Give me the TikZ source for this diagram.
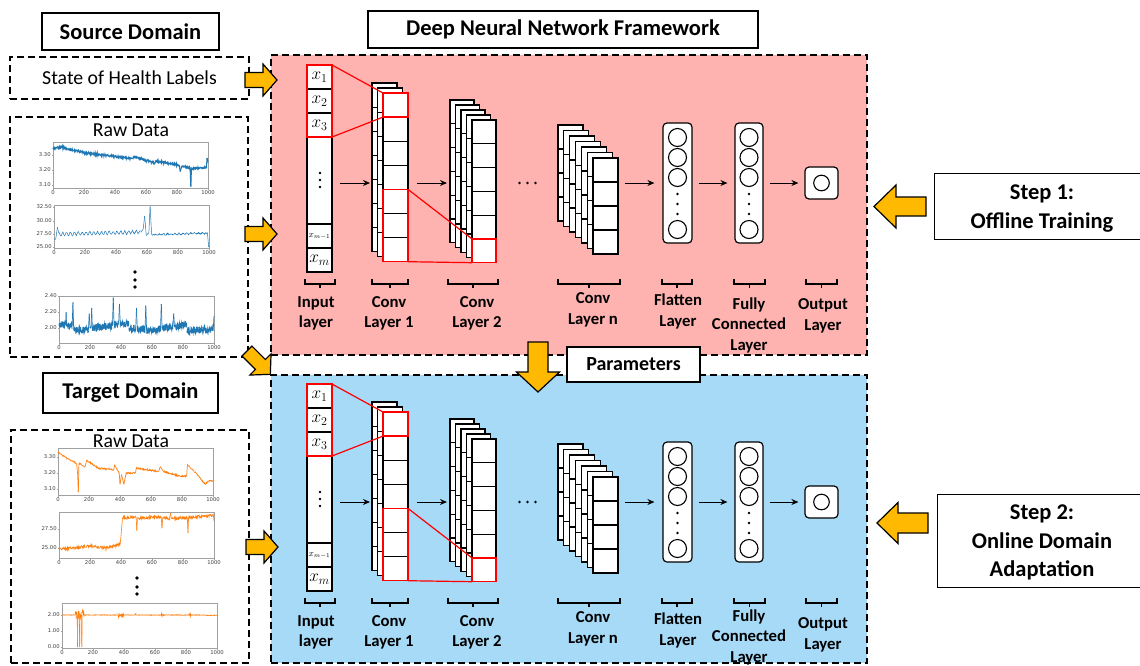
\documentclass[tikz,border=0pt]{standalone}
\usepackage{fontspec}
\setmainfont{Carlito}
\newfontfamily\tickfont{DejaVu Sans}
\usetikzlibrary{arrows.meta}
\definecolor{panelred}{HTML}{FFB3B0}
\definecolor{panelblue}{HTML}{A6DAF7}
\definecolor{gold}{HTML}{FFB900}
\definecolor{mplblue}{HTML}{1F77B4}
\definecolor{mplorange}{HTML}{FF7F0E}
\definecolor{axgray}{HTML}{A0A0A0}
\tikzset{
 titlebox/.style={draw, line width=1.3pt, fill=white, inner sep=0pt, font=\fontsize{22.5}{26}\selectfont\bfseries},
 dashbox/.style={draw, line width=1.2pt, dash pattern=on 7pt off 4pt, inner sep=0pt},
 panel/.style={draw, line width=1.2pt, dash pattern=on 7pt off 4pt, inner sep=0pt},
 cell/.style={draw, line width=1.1pt, fill=white},
 redsel/.style={draw=red, line width=1.3pt},
 redline/.style={red, line width=1.2pt},
 flow/.style={-{Stealth[length=7pt,width=6pt]}, line width=1pt},
 bigarrow/.style={draw, line width=1.2pt, fill=gold, line join=miter},
 brack/.style={line width=1.2pt},
 layerlab/.style={font=\fontsize{16.7}{20.5}\selectfont\bfseries, align=center, inner sep=0pt},
 steptext/.style={font=\fontsize{22.5}{28.5}\selectfont\bfseries, align=center, inner sep=0pt},
 neuronbox/.style={draw, line width=1.2pt, fill=white, rounded corners=4pt, inner sep=0pt},
 neuron/.style={draw, line width=1.1pt, fill=white},
 xlab/.style={inner sep=0pt, font=\fontsize{17}{17}\selectfont},
 axframe/.style={draw=axgray, line width=0.5pt},
 ticklab/.style={font=\tickfont\fontsize{5.3}{6}\selectfont, text=black!75, inner sep=0.6pt},
 rawtitle/.style={font=\fontsize{19.8}{22}\selectfont, inner sep=0pt},
}
% one column of cells: x, y, width, cell height, number of cells
\newcommand\fmcol[5]{\foreach \k in {1,...,#5}{\draw[cell] ({#1},{#2+(\k-1)*#4}) rectangle ++(#3,#4);}}
% bracket under a layer
\newcommand\brk[3]{\draw[brack] (#1,#3) -- (#1,{#3+5}) -- (#2,{#3+5}) -- (#2,#3);
 \draw[brack] ({(#1+#2)/2},{#3+5}) -- ({(#1+#2)/2},{#3+9});}
% block arrow: x, y (tail centre), angle, length, head length, shaft half width, head half width
\newcommand\yarrow[7]{\begin{scope}[shift={(#1,#2)}, rotate=#3]
 \draw[bigarrow] (0,-#6) -- ({#4-#5},-#6) -- ({#4-#5},-#7) -- (#4,0) -- ({#4-#5},#7) -- ({#4-#5},#6) -- (0,#6) -- cycle;
\end{scope}}
% axes frame: x0, ytop, w, h, ytick list
\newcommand\axesbox[5]{%
 \draw[axframe] (#1,#2) rectangle ({#1+#3},{#2+#4});
 \foreach \i/\l in {0/0,1/200,2/400,3/600,4/800,5/1000}{
   \draw[axframe] ({#1+\i*#3/5},{#2+#4}) -- ({#1+\i*#3/5},{#2+#4+1.5});
   \node[ticklab, anchor=north] at ({#1+\i*#3/5},{#2+#4+1.5}) {\l};}
 \foreach \p/\l in {#5}{
   \draw[axframe] (#1,\p) -- ({#1-1.5},\p);
   \node[ticklab, anchor=east] at ({#1-1.5},\p) {\l};}
}
% data series: style, x0, py of value zero, px per unit, x unit, segment list, extra term, step
\newcommand\series[8]{\begin{scope}[shift={(#2,#3)}, x=#5pt, y=#4pt]
 \foreach \xa/\ya/\xb/\yb/\nz in {#6}{
   \pgfmathtruncatemacro\ns{max(2,(\xb-\xa)/#8+1)}
   \draw[#1] plot[domain=\xa:\xb, samples=\ns, variable=\t] (\t, {\ya+(\yb-\ya)*(\t-\xa)/(\xb-\xa)+\nz*rand+#7});
 }
\end{scope}}
% network: prefix, vertical shift, extra shift of FC label
\newcommand\network[3]{\begin{scope}[shift={(0,#2)}]
 % input layer
 \draw[cell] (307,65) rectangle (332,272);
 \foreach \ya/\yb in {65/89,89/113,113/137,224/248,248/272}{\draw[cell] (307,\ya) rectangle (332,\yb);}
 \node[xlab] (#1x1) at (319.5,77) {$x_1$};
 \node[xlab] (#1x2) at (319.5,101) {$x_2$};
 \node[xlab] (#1x3) at (319.5,125) {$x_3$};
 \node[xlab, font=\fontsize{9}{9}\selectfont] (#1xm1) at (319.5,236) {$x_{m-1}$};
 \node[xlab] (#1xm) at (319.5,260) {$x_m$};
 \foreach \yy in {173,180,187}{\fill (320,\yy) circle (1.4pt);}
 % conv layers
 \foreach \j in {0,1,2}{\fmcol{372+\j*5.5}{83+\j*5}{25}{24.1}{7}}
 \foreach \j in {0,...,4}{\fmcol{450+\j*5.5}{100+\j*5}{24}{23.8}{6}}
 \foreach \j in {0,...,6}{\fmcol{558+\j*5.83}{125+\j*5.5}{25}{24}{4}}
 % receptive fields
 \draw[redsel] (307,65) rectangle (332,137);
 \draw[redsel] (383,93) rectangle (408,117.1);
 \draw[redsel] (383,189.4) rectangle (408,261.7);
 \draw[redsel] (472,238.9) rectangle (496,262.7);
 \coordinate (#1rfA) at (332,65); \coordinate (#1rfB) at (332,137);
 \coordinate (#1c1A) at (383,93); \coordinate (#1c1B) at (383,117.1);
 \coordinate (#1c1C) at (408,189.4); \coordinate (#1c1D) at (408,261.7);
 \coordinate (#1c2A) at (472,238.9); \coordinate (#1c2B) at (472,262.7);
 \draw[redline] (#1rfA) -- (#1c1A);
 \draw[redline] (#1rfB) -- (#1c1B);
 \draw[redline] (#1c1C) -- (#1c2A);
 \draw[redline] (#1c1D) -- (#1c2B);
 % dense layers
 \node[neuronbox, minimum width=29pt, minimum height=120pt] (#1flat) at (677.5,183) {};
 \node[neuronbox, minimum width=28pt, minimum height=120pt] (#1fc) at (749,183) {};
 \node[neuronbox, minimum width=33pt, minimum height=32pt] (#1out) at (821.5,183) {};
 \foreach \xx in {677.5,749}{
   \foreach \yy in {137.5,157.5,177.5,229.5}{\draw[neuron] (\xx,\yy) circle (9pt);}
   \foreach \yy in {194,204,214}{\fill (\xx,\yy) circle (1.3pt);}}
 \draw[neuron] (#1out.center) circle (7.8pt);
 % flow arrows
 \coordinate (#1inR) at (340,183); \coordinate (#1c1L) at (370,183);
 \coordinate (#1c1R) at (417,183); \coordinate (#1c2L) at (447,183);
 \coordinate (#1cnR) at (625,183);
 \draw[flow] (#1inR) -- (#1c1L);
 \draw[flow] (#1c1R) -- (#1c2L);
 \draw[flow] (#1cnR) -- ([xshift=-8pt]#1flat.west);
 \draw[flow] ([xshift=6pt]#1flat.east) -- ([xshift=-7pt]#1fc.west);
 \draw[flow] ([xshift=6pt]#1fc.east) -- ([xshift=-6pt]#1out.west);
 \foreach \xx in {519.5,527.5,535.5}{\fill (\xx,183) circle (1.3pt);}
 % brackets and labels
 \brk{305}{335}{279}
 \brk{372}{408}{279}
 \brk{448}{498}{279}
 \brk{558}{620}{279}
 \brk{662}{692}{279}
 \brk{734}{765}{279}
 \brk{806}{837}{279}
 \node[layerlab] (#1Lin) at (316,313.5) {Input\\layer};
 \node[layerlab] (#1Lc1) at (389,313.5) {Conv\\Layer 1};
 \node[layerlab] (#1Lc2) at (477,313.5) {Conv\\Layer 2};
 \node[layerlab] (#1Lcn) at (593,310) {Conv\\Layer n};
 \node[layerlab] (#1Lfl) at (678,311.5) {Flatten\\Layer};
 \node[layerlab] (#1Lfc) at (749,{325+#3}) {Fully\\Connected\\Layer};
 \node[layerlab] (#1Lout) at (823,316) {Output\\Layer};
\end{scope}}

\begin{document}
\begin{tikzpicture}[x=1pt,y=-1pt]
\pgfmathsetseed{7}
\useasboundingbox (0,0) rectangle (1140,665);
\fill[white] (0,0) rectangle (1140,665);

% panels
\node[panel, fill=panelred, minimum width=596pt, minimum height=300pt] (trainpanel) at (569,205) {};
\node[panel, fill=panelblue, minimum width=596pt, minimum height=288pt] (adaptpanel) at (569,519) {};

% title boxes
\node[titlebox, minimum width=177pt, minimum height=37pt] (srcdom) at (130.5,31.5) {Source Domain};
\node[titlebox, minimum width=390pt, minimum height=37pt] (dnn) at (563,29.5) {Deep Neural Network Framework};
\node[titlebox, minimum width=175pt, minimum height=40pt] (tgtdom) at (130.5,393) {Target Domain};

% source side
\node[dashbox, minimum width=239pt, minimum height=42pt, font=\fontsize{19.8}{22}\selectfont] (soh) at (129.5,78) {State of Health Labels};
\node[dashbox, minimum width=238pt, minimum height=240pt] (srcraw) at (129,237) {};
\node[rawtitle] (srcrawt) at (131,130) {Raw Data};
\node[dashbox, minimum width=238pt, minimum height=233pt] (tgtraw) at (130,546.5) {};
\node[rawtitle] (tgtrawt) at (131,441) {Raw Data};

% source plots
\axesbox{53}{142}{155}{46}{155/3.30,170/3.20,185/3.10}
\series{mplblue, line width=1.1pt}{53}{650}{150}{0.155}{0/3.345/60/3.35/0.007, 60/3.35/200/3.315/0.007, 200/3.315/400/3.29/0.007, 400/3.29/515/3.275/0.007, 515/3.275/520/3.29/0, 520/3.29/660/3.245/0.007, 660/3.26/800/3.235/0.007, 800/3.235/815/3.23/0.004, 815/3.23/821/3.19/0, 821/3.19/830/3.225/0, 830/3.225/885/3.215/0.006, 885/3.215/889/3.09/0, 889/3.09/893/3.21/0, 893/3.21/990/3.215/0.006, 990/3.215/994/3.28/0, 994/3.28/1000/3.25/0}{0}{2}

\axesbox{54}{205}{155}{43}{207/32.50,221/30.00,234/27.50,247/25.00}
\series{mplblue, line width=0.5pt}{54}{380.3}{5.333}{0.155}{0/26.4/12/26.6/0.1, 12/26.6/22/28.7/0, 22/28.7/32/27.4/0, 32/27.4/560/27.8/0.12, 560/27.8/575/28.3/0.1, 575/28.3/585/30.8/0, 585/30.8/595/27.2/0, 595/27.2/612/27.6/0.1, 612/27.6/620/32.6/0, 620/32.6/630/27.3/0, 630/27.3/990/27.6/0.12, 990/27.6/998/25/0, 998/25/1000/25.2/0}{0.3*sin(\t*14.4)*(\t>30)*(\t<560)+0.12*sin(\t*14.4)*(\t>640)*(\t<985)}{2.5}

\foreach \yy in {272,280,287}{\fill (135,\yy) circle (1.8pt);}

\axesbox{59}{296}{155}{47}{296/2.40,312/2.20,328/2.00}
\series{mplblue, line width=0.7pt}{59}{488}{80}{0.155}{0/2.04/43/2.04/0.045, 43/2.04/46/2.2/0, 46/2.2/49/2.02/0, 49/2.02/85/2.03/0.045, 85/2.03/90/2.32/0, 90/2.32/95/1.97/0, 95/1.97/190/1.98/0.045, 190/1.98/195/2.18/0, 195/2.18/200/2.0/0, 200/2.0/207/2.0/0.03, 207/2.0/211/2.25/0, 211/2.25/215/2.0/0, 215/2.0/345/2.03/0.045, 345/2.03/350/2.38/0, 350/2.38/355/2.04/0, 355/2.04/385/2.05/0.045, 385/2.05/390/2.3/0, 390/2.3/395/2.05/0, 395/2.05/450/2.05/0.045, 450/2.0/495/1.99/0.045, 495/1.99/500/2.25/0, 500/2.25/505/1.99/0, 505/1.99/555/1.98/0.045, 555/1.98/560/2.28/0, 560/2.28/565/1.97/0, 565/1.97/655/1.99/0.045, 655/1.99/660/2.3/0, 660/2.3/665/2.0/0, 665/2.0/735/2.02/0.045, 735/2.02/740/2.18/0, 740/2.18/745/2.02/0, 745/2.02/825/2.05/0.045, 825/1.97/995/1.98/0.045, 995/1.98/1000/2.15/0}{0}{1.2}

% target plots
\axesbox{58}{448}{155}{47}{457/3.30,473/3.20,489/3.10}
\series{mplorange, line width=0.7pt}{58}{985}{160}{0.155}{0/3.33/60/3.29/0.005, 60/3.29/120/3.26/0.005, 120/3.26/127/3.19/0, 127/3.19/131/3.08/0, 131/3.08/135/3.26/0, 135/3.26/175/3.24/0.005, 175/3.24/185/3.28/0, 185/3.28/260/3.23/0.005, 260/3.23/360/3.22/0.005, 360/3.22/365/3.25/0, 365/3.25/395/3.2/0.005, 395/3.2/400/3.13/0, 400/3.13/410/3.19/0, 410/3.19/425/3.13/0, 425/3.13/440/3.2/0, 440/3.2/500/3.2/0.005, 500/3.2/505/3.23/0, 505/3.23/650/3.21/0.005, 650/3.21/660/3.24/0, 660/3.24/680/3.21/0, 680/3.21/790/3.18/0.005, 790/3.18/830/3.18/0.005, 830/3.18/835/3.25/0, 835/3.25/880/3.21/0.005, 880/3.21/950/3.13/0.005, 950/3.13/970/3.15/0.005, 970/3.15/1000/3.15/0.005}{0}{2.5}

\axesbox{59}{512}{155}{46}{529/27.50,548/25.00}
\series{mplorange, line width=0.6pt}{59}{738}{7.6}{0.155}{0/24.9/100/25.0/0.18, 100/25.0/200/25.3/0.18, 200/25.3/300/25.0/0.18, 300/25.0/395/25.5/0.18, 395/25.5/410/29.0/0, 410/29.0/498/29.0/0.18, 498/29.0/502/27.3/0, 502/27.3/506/28.9/0, 506/28.9/660/29.1/0.18, 660/29.1/664/27.6/0, 664/27.6/670/29.0/0, 670/29.0/715/28.9/0.18, 715/28.9/720/29.6/0, 720/29.6/725/28.9/0, 725/28.9/828/29.0/0.18, 828/29.0/832/27.0/0, 832/27.0/836/29.0/0, 836/29.0/990/29.3/0.18, 990/29.3/995/29.5/0, 995/29.5/1000/28.5/0}{0}{2}

\foreach \yy in {578,587,594}{\fill (137,\yy) circle (1.8pt);}

\axesbox{62}{603}{155}{45}{615/2.00,631/1.00,647/0.00}
\series{mplorange, line width=0.6pt}{62}{647}{16}{0.155}{0/2.0/85/2.0/0.02, 85/2.0/98/2.0/0.25, 98/2.0/100/0/0, 100/0/102/2.0/0, 102/2.0/112/2.0/0.3, 112/2.0/114/0/0, 114/0/116/2.1/0, 116/2.1/126/2.0/0.3, 126/2.0/128/0/0, 128/0/130/2.2/0, 130/2.2/145/2.0/0.25, 145/2.0/360/2.0/0.02, 360/2.0/400/2.0/0.15, 400/2.0/470/2.0/0.02, 470/2.0/480/2.0/0.12, 480/2.0/640/2.0/0.02, 640/2.0/650/2.0/0.1, 650/2.0/820/2.0/0.02, 820/2.0/835/2.0/0.1, 835/2.0/920/2.0/0.02, 920/1.98/1000/1.98/0.02}{0}{2}

% networks
\network{s}{0}{0}
\network{t}{319}{-7}

% parameters and steps
\node[titlebox, minimum width=133pt, minimum height=35pt, font=\fontsize{20}{22}\selectfont\bfseries] (params) at (633.5,364.5) {Parameters};
\node[titlebox, minimum width=212pt, minimum height=66pt, anchor=north west] (step1) at (934,173) {};
\node[steptext] (step1t) at (1042,208.5) {Step 1:\\Offline Training};
\node[titlebox, minimum width=210pt, minimum height=93pt, anchor=north west] (step2) at (937,494) {};
\node[steptext] (step2t) at (1042,542.5) {Step 2:\\Online Domain\\Adaptation};

% block arrows
\yarrow{245}{80}{0}{32}{14}{7.5}{16}
\yarrow{245}{234}{0}{32}{14}{7.5}{16}
\yarrow{246}{547}{0}{32}{14}{7.5}{16}
\yarrow{247}{351}{-45}{33}{14}{7}{15}
\yarrow{538}{342}{-90}{50}{20}{10}{21.5}
\yarrow{926}{206.5}{180}{52}{22}{9.5}{21.5}
\yarrow{928}{523}{180}{51}{21}{10}{20.5}
\end{tikzpicture}
\end{document}
